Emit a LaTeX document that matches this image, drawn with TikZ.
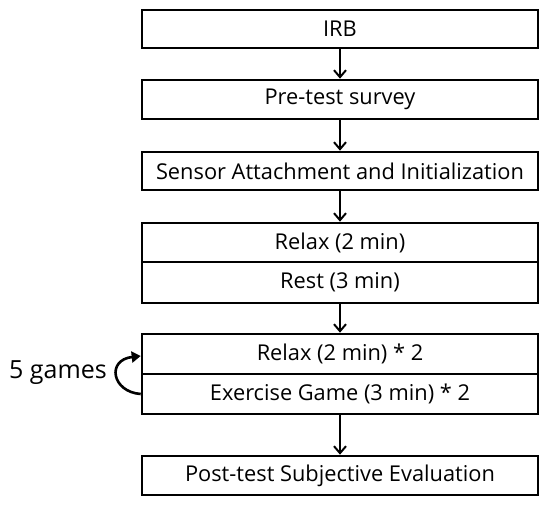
\documentclass[tikz,border=0pt]{standalone}
\usepackage{fontspec}
\setmainfont{Open Sans}
\usetikzlibrary{arrows.meta}
\begin{document}
\begin{tikzpicture}[x=1pt,y=-1pt,
  stepbox/.style={draw, line width=2.6pt, minimum width=396pt, inner sep=0pt, font=\fontsize{21.8}{25}\selectfont},
  conn/.style={line width=2pt, -{Straight Barb[length=7pt,width=12pt,line width=2pt]}}]
\useasboundingbox (0,0) rectangle (550,506);
\node[stepbox, minimum height=38pt] (irb) at (340,29) {IRB};
\node[stepbox, minimum height=39pt] (pre) at (340,99.5) {Pre-test survey};
\node[stepbox, minimum height=38pt] (sensor) at (340,171) {Sensor Attachment and Initialization};
\node[stepbox, minimum height=39pt] (relaxa) at (340,242.5) {Relax (2 min)};
\node[stepbox, minimum height=41pt] (rest) at (340,282.5) {Rest (3 min)};
\node[stepbox, minimum height=40pt] (relaxb) at (340,354) {Relax (2 min) * 2};
\node[stepbox, minimum height=40pt] (ex) at (340,394) {Exercise Game (3 min) * 2};
\node[stepbox, minimum height=39pt] (post) at (340,475.5) {Post-test Subjective Evaluation};
\node[font=\fontsize{25}{28}\selectfont, anchor=west, inner sep=0pt] (games) at (9,373) {5 games};
\draw[conn] (irb) -- (pre);
\draw[conn] (pre) -- (sensor);
\draw[conn] (sensor) -- (relaxa);
\draw[conn] (rest) -- (relaxb);
\draw[conn] (ex) -- (post);
\draw[line width=2.6pt, -{Triangle[length=9pt,width=11pt]}] (ex.west) .. controls (112,392) and (106,360) .. ([yshift=-2pt]relaxb.west);
\end{tikzpicture}
\end{document}
